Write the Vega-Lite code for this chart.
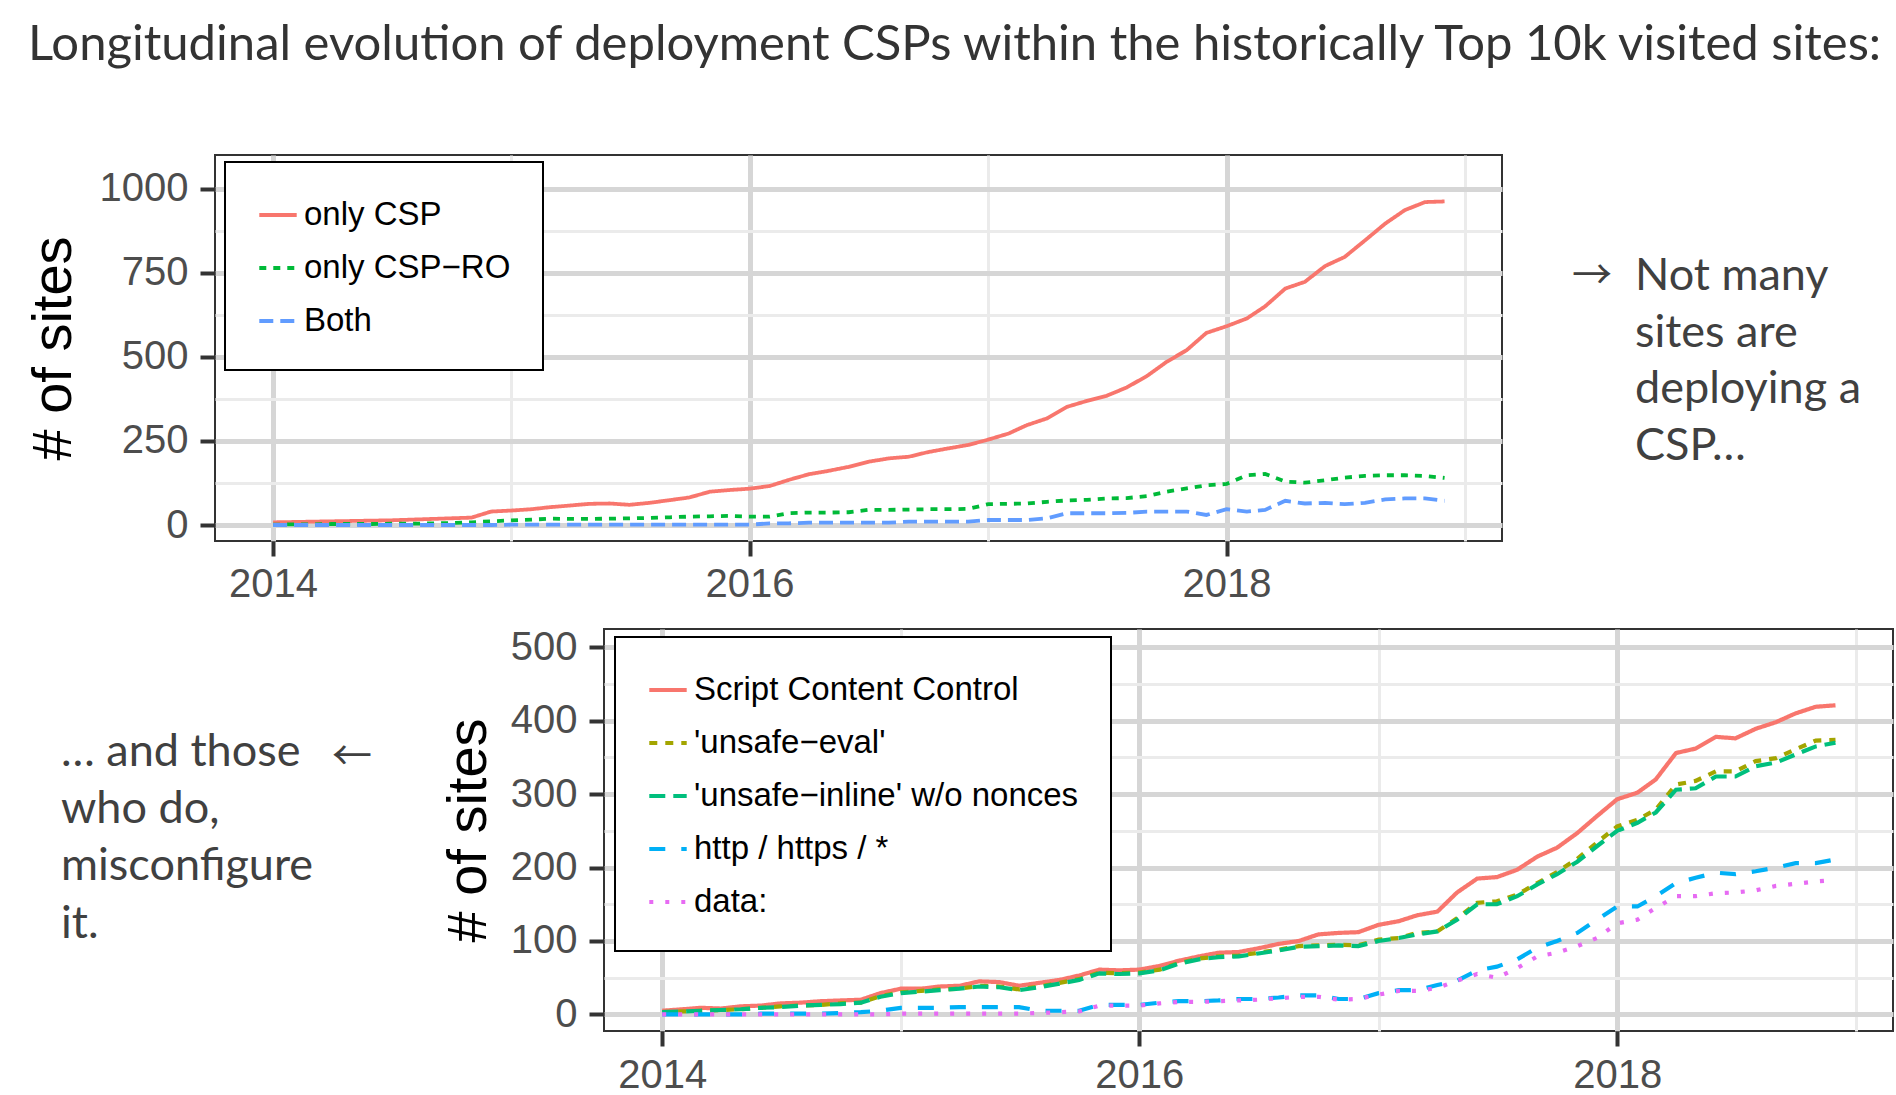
{
  "$schema": "https://vega.github.io/schema/vega-lite/v6.json",
  "background": "white",
  "padding": 0,
  "spacing": 0,
  "resolve": {
    "scale": {"x": "independent", "y": "independent", "color": "independent", "strokeDash": "independent"},
    "axis": {"x": "independent", "y": "independent"},
    "legend": {"color": "independent", "strokeDash": "independent"}
  },
  "config": {
    "view": {"stroke": null},
    "font": "Liberation Sans",
    "axis": {"domain": false, "ticks": true, "tickSize": 15, "tickWidth": 4, "tickColor": "#333333", "labelFont": "Liberation Sans", "labelFontSize": 40, "labelColor": "#4d4d4d", "grid": true, "titleFont": "Liberation Sans", "titleFontSize": 56, "titleColor": "black", "titleFontWeight": "normal", "labelOverlap": false, "labelFlush": false},
    "legend": {"labelFont": "Liberation Sans", "labelFontSize": 33, "labelColor": "black", "fillColor": "white", "strokeColor": "black", "padding": 32, "symbolType": "stroke", "rowPadding": 15, "labelOffset": 5, "labelLimit": 0}
  },
  "datasets": {
    "blank": [{}],
    "top": [
      {"date":"2014-01-01","series":"only CSP","sites":8},{"date":"2014-02-01","series":"only CSP","sites":9},{"date":"2014-03-01","series":"only CSP","sites":10},{"date":"2014-04-01","series":"only CSP","sites":11},{"date":"2014-05-01","series":"only CSP","sites":12},{"date":"2014-06-01","series":"only CSP","sites":13},{"date":"2014-07-01","series":"only CSP","sites":14},{"date":"2014-08-01","series":"only CSP","sites":16},{"date":"2014-09-01","series":"only CSP","sites":18},{"date":"2014-10-01","series":"only CSP","sites":20},{"date":"2014-11-01","series":"only CSP","sites":22},{"date":"2014-12-01","series":"only CSP","sites":40},
      {"date":"2015-01-01","series":"only CSP","sites":43},{"date":"2015-02-01","series":"only CSP","sites":47},{"date":"2015-03-01","series":"only CSP","sites":53},{"date":"2015-04-01","series":"only CSP","sites":58},{"date":"2015-05-01","series":"only CSP","sites":63},{"date":"2015-06-01","series":"only CSP","sites":64},{"date":"2015-07-01","series":"only CSP","sites":60},{"date":"2015-08-01","series":"only CSP","sites":66},{"date":"2015-09-01","series":"only CSP","sites":74},{"date":"2015-10-01","series":"only CSP","sites":82},{"date":"2015-11-01","series":"only CSP","sites":99},{"date":"2015-12-01","series":"only CSP","sites":104},
      {"date":"2016-01-01","series":"only CSP","sites":108},{"date":"2016-02-01","series":"only CSP","sites":116},{"date":"2016-03-01","series":"only CSP","sites":134},{"date":"2016-04-01","series":"only CSP","sites":151},{"date":"2016-05-01","series":"only CSP","sites":161},{"date":"2016-06-01","series":"only CSP","sites":173},{"date":"2016-07-01","series":"only CSP","sites":188},{"date":"2016-08-01","series":"only CSP","sites":198},{"date":"2016-09-01","series":"only CSP","sites":203},{"date":"2016-10-01","series":"only CSP","sites":217},{"date":"2016-11-01","series":"only CSP","sites":228},{"date":"2016-12-01","series":"only CSP","sites":238},
      {"date":"2017-01-01","series":"only CSP","sites":254},{"date":"2017-02-01","series":"only CSP","sites":272},{"date":"2017-03-01","series":"only CSP","sites":297},{"date":"2017-04-01","series":"only CSP","sites":317},{"date":"2017-05-01","series":"only CSP","sites":351},{"date":"2017-06-01","series":"only CSP","sites":369},{"date":"2017-07-01","series":"only CSP","sites":384},{"date":"2017-08-01","series":"only CSP","sites":409},{"date":"2017-09-01","series":"only CSP","sites":443},{"date":"2017-10-01","series":"only CSP","sites":485},{"date":"2017-11-01","series":"only CSP","sites":520},{"date":"2017-12-01","series":"only CSP","sites":571},
      {"date":"2018-01-01","series":"only CSP","sites":591},{"date":"2018-02-01","series":"only CSP","sites":614},{"date":"2018-03-01","series":"only CSP","sites":650},{"date":"2018-04-01","series":"only CSP","sites":703},{"date":"2018-05-01","series":"only CSP","sites":723},{"date":"2018-06-01","series":"only CSP","sites":770},{"date":"2018-07-01","series":"only CSP","sites":797},{"date":"2018-08-01","series":"only CSP","sites":846},{"date":"2018-09-01","series":"only CSP","sites":896},{"date":"2018-10-01","series":"only CSP","sites":936},{"date":"2018-11-01","series":"only CSP","sites":960},{"date":"2018-12-01","series":"only CSP","sites":962},
      {"date":"2014-01-01","series":"only CSP−RO","sites":1},{"date":"2014-02-01","series":"only CSP−RO","sites":2},{"date":"2014-03-01","series":"only CSP−RO","sites":2},{"date":"2014-04-01","series":"only CSP−RO","sites":3},{"date":"2014-05-01","series":"only CSP−RO","sites":3},{"date":"2014-06-01","series":"only CSP−RO","sites":3},{"date":"2014-07-01","series":"only CSP−RO","sites":4},{"date":"2014-08-01","series":"only CSP−RO","sites":4},{"date":"2014-09-01","series":"only CSP−RO","sites":5},{"date":"2014-10-01","series":"only CSP−RO","sites":6},{"date":"2014-11-01","series":"only CSP−RO","sites":8},{"date":"2014-12-01","series":"only CSP−RO","sites":11},
      {"date":"2015-01-01","series":"only CSP−RO","sites":14},{"date":"2015-02-01","series":"only CSP−RO","sites":16},{"date":"2015-03-01","series":"only CSP−RO","sites":19},{"date":"2015-04-01","series":"only CSP−RO","sites":18},{"date":"2015-05-01","series":"only CSP−RO","sites":18},{"date":"2015-06-01","series":"only CSP−RO","sites":19},{"date":"2015-07-01","series":"only CSP−RO","sites":20},{"date":"2015-08-01","series":"only CSP−RO","sites":21},{"date":"2015-09-01","series":"only CSP−RO","sites":23},{"date":"2015-10-01","series":"only CSP−RO","sites":25},{"date":"2015-11-01","series":"only CSP−RO","sites":26},{"date":"2015-12-01","series":"only CSP−RO","sites":27},
      {"date":"2016-01-01","series":"only CSP−RO","sites":25},{"date":"2016-02-01","series":"only CSP−RO","sites":25},{"date":"2016-03-01","series":"only CSP−RO","sites":35},{"date":"2016-04-01","series":"only CSP−RO","sites":37},{"date":"2016-05-01","series":"only CSP−RO","sites":37},{"date":"2016-06-01","series":"only CSP−RO","sites":38},{"date":"2016-07-01","series":"only CSP−RO","sites":45},{"date":"2016-08-01","series":"only CSP−RO","sites":45},{"date":"2016-09-01","series":"only CSP−RO","sites":46},{"date":"2016-10-01","series":"only CSP−RO","sites":47},{"date":"2016-11-01","series":"only CSP−RO","sites":47},{"date":"2016-12-01","series":"only CSP−RO","sites":48},
      {"date":"2017-01-01","series":"only CSP−RO","sites":62},{"date":"2017-02-01","series":"only CSP−RO","sites":63},{"date":"2017-03-01","series":"only CSP−RO","sites":64},{"date":"2017-04-01","series":"only CSP−RO","sites":69},{"date":"2017-05-01","series":"only CSP−RO","sites":73},{"date":"2017-06-01","series":"only CSP−RO","sites":75},{"date":"2017-07-01","series":"only CSP−RO","sites":79},{"date":"2017-08-01","series":"only CSP−RO","sites":80},{"date":"2017-09-01","series":"only CSP−RO","sites":86},{"date":"2017-10-01","series":"only CSP−RO","sites":99},{"date":"2017-11-01","series":"only CSP−RO","sites":109},{"date":"2017-12-01","series":"only CSP−RO","sites":118},
      {"date":"2018-01-01","series":"only CSP−RO","sites":122},{"date":"2018-02-01","series":"only CSP−RO","sites":148},{"date":"2018-03-01","series":"only CSP−RO","sites":152},{"date":"2018-04-01","series":"only CSP−RO","sites":129},{"date":"2018-05-01","series":"only CSP−RO","sites":126},{"date":"2018-06-01","series":"only CSP−RO","sites":133},{"date":"2018-07-01","series":"only CSP−RO","sites":141},{"date":"2018-08-01","series":"only CSP−RO","sites":146},{"date":"2018-09-01","series":"only CSP−RO","sites":148},{"date":"2018-10-01","series":"only CSP−RO","sites":148},{"date":"2018-11-01","series":"only CSP−RO","sites":146},{"date":"2018-12-01","series":"only CSP−RO","sites":140},
      {"date":"2014-01-01","series":"Both","sites":0},{"date":"2014-02-01","series":"Both","sites":0},{"date":"2014-03-01","series":"Both","sites":0},{"date":"2014-04-01","series":"Both","sites":0},{"date":"2014-05-01","series":"Both","sites":0},{"date":"2014-06-01","series":"Both","sites":0},{"date":"2014-07-01","series":"Both","sites":0},{"date":"2014-08-01","series":"Both","sites":0},{"date":"2014-09-01","series":"Both","sites":0},{"date":"2014-10-01","series":"Both","sites":0},{"date":"2014-11-01","series":"Both","sites":0},{"date":"2014-12-01","series":"Both","sites":0},
      {"date":"2015-01-01","series":"Both","sites":1},{"date":"2015-02-01","series":"Both","sites":1},{"date":"2015-03-01","series":"Both","sites":1},{"date":"2015-04-01","series":"Both","sites":1},{"date":"2015-05-01","series":"Both","sites":1},{"date":"2015-06-01","series":"Both","sites":1},{"date":"2015-07-01","series":"Both","sites":1},{"date":"2015-08-01","series":"Both","sites":1},{"date":"2015-09-01","series":"Both","sites":1},{"date":"2015-10-01","series":"Both","sites":1},{"date":"2015-11-01","series":"Both","sites":1},{"date":"2015-12-01","series":"Both","sites":1},
      {"date":"2016-01-01","series":"Both","sites":1},{"date":"2016-02-01","series":"Both","sites":5},{"date":"2016-03-01","series":"Both","sites":5},{"date":"2016-04-01","series":"Both","sites":7},{"date":"2016-05-01","series":"Both","sites":7},{"date":"2016-06-01","series":"Both","sites":7},{"date":"2016-07-01","series":"Both","sites":7},{"date":"2016-08-01","series":"Both","sites":7},{"date":"2016-09-01","series":"Both","sites":10},{"date":"2016-10-01","series":"Both","sites":10},{"date":"2016-11-01","series":"Both","sites":10},{"date":"2016-12-01","series":"Both","sites":10},
      {"date":"2017-01-01","series":"Both","sites":15},{"date":"2017-02-01","series":"Both","sites":15},{"date":"2017-03-01","series":"Both","sites":15},{"date":"2017-04-01","series":"Both","sites":20},{"date":"2017-05-01","series":"Both","sites":35},{"date":"2017-06-01","series":"Both","sites":35},{"date":"2017-07-01","series":"Both","sites":35},{"date":"2017-08-01","series":"Both","sites":36},{"date":"2017-09-01","series":"Both","sites":40},{"date":"2017-10-01","series":"Both","sites":40},{"date":"2017-11-01","series":"Both","sites":40},{"date":"2017-12-01","series":"Both","sites":30},
      {"date":"2018-01-01","series":"Both","sites":47},{"date":"2018-02-01","series":"Both","sites":40},{"date":"2018-03-01","series":"Both","sites":45},{"date":"2018-04-01","series":"Both","sites":72},{"date":"2018-05-01","series":"Both","sites":64},{"date":"2018-06-01","series":"Both","sites":66},{"date":"2018-07-01","series":"Both","sites":62},{"date":"2018-08-01","series":"Both","sites":66},{"date":"2018-09-01","series":"Both","sites":76},{"date":"2018-10-01","series":"Both","sites":79},{"date":"2018-11-01","series":"Both","sites":79},{"date":"2018-12-01","series":"Both","sites":72}
    ],
    "bottom": [
      {"date":"2014-01-01","series":"Script Content Control","sites":5},{"date":"2014-02-01","series":"Script Content Control","sites":7},{"date":"2014-03-01","series":"Script Content Control","sites":9},{"date":"2014-04-01","series":"Script Content Control","sites":8},{"date":"2014-05-01","series":"Script Content Control","sites":11},{"date":"2014-06-01","series":"Script Content Control","sites":12},{"date":"2014-07-01","series":"Script Content Control","sites":15},{"date":"2014-08-01","series":"Script Content Control","sites":16},{"date":"2014-09-01","series":"Script Content Control","sites":18},{"date":"2014-10-01","series":"Script Content Control","sites":19},{"date":"2014-11-01","series":"Script Content Control","sites":20},{"date":"2014-12-01","series":"Script Content Control","sites":29},
      {"date":"2015-01-01","series":"Script Content Control","sites":35},{"date":"2015-02-01","series":"Script Content Control","sites":35},{"date":"2015-03-01","series":"Script Content Control","sites":38},{"date":"2015-04-01","series":"Script Content Control","sites":39},{"date":"2015-05-01","series":"Script Content Control","sites":45},{"date":"2015-06-01","series":"Script Content Control","sites":44},{"date":"2015-07-01","series":"Script Content Control","sites":39},{"date":"2015-08-01","series":"Script Content Control","sites":43},{"date":"2015-09-01","series":"Script Content Control","sites":47},{"date":"2015-10-01","series":"Script Content Control","sites":53},{"date":"2015-11-01","series":"Script Content Control","sites":61},{"date":"2015-12-01","series":"Script Content Control","sites":60},
      {"date":"2016-01-01","series":"Script Content Control","sites":61},{"date":"2016-02-01","series":"Script Content Control","sites":66},{"date":"2016-03-01","series":"Script Content Control","sites":73},{"date":"2016-04-01","series":"Script Content Control","sites":79},{"date":"2016-05-01","series":"Script Content Control","sites":84},{"date":"2016-06-01","series":"Script Content Control","sites":85},{"date":"2016-07-01","series":"Script Content Control","sites":90},{"date":"2016-08-01","series":"Script Content Control","sites":96},{"date":"2016-09-01","series":"Script Content Control","sites":100},{"date":"2016-10-01","series":"Script Content Control","sites":109},{"date":"2016-11-01","series":"Script Content Control","sites":111},{"date":"2016-12-01","series":"Script Content Control","sites":112},
      {"date":"2017-01-01","series":"Script Content Control","sites":122},{"date":"2017-02-01","series":"Script Content Control","sites":127},{"date":"2017-03-01","series":"Script Content Control","sites":135},{"date":"2017-04-01","series":"Script Content Control","sites":140},{"date":"2017-05-01","series":"Script Content Control","sites":166},{"date":"2017-06-01","series":"Script Content Control","sites":185},{"date":"2017-07-01","series":"Script Content Control","sites":187},{"date":"2017-08-01","series":"Script Content Control","sites":197},{"date":"2017-09-01","series":"Script Content Control","sites":215},{"date":"2017-10-01","series":"Script Content Control","sites":227},{"date":"2017-11-01","series":"Script Content Control","sites":247},{"date":"2017-12-01","series":"Script Content Control","sites":270},
      {"date":"2018-01-01","series":"Script Content Control","sites":293},{"date":"2018-02-01","series":"Script Content Control","sites":302},{"date":"2018-03-01","series":"Script Content Control","sites":320},{"date":"2018-04-01","series":"Script Content Control","sites":356},{"date":"2018-05-01","series":"Script Content Control","sites":362},{"date":"2018-06-01","series":"Script Content Control","sites":378},{"date":"2018-07-01","series":"Script Content Control","sites":376},{"date":"2018-08-01","series":"Script Content Control","sites":389},{"date":"2018-09-01","series":"Script Content Control","sites":398},{"date":"2018-10-01","series":"Script Content Control","sites":410},{"date":"2018-11-01","series":"Script Content Control","sites":419},{"date":"2018-12-01","series":"Script Content Control","sites":421},
      {"date":"2014-01-01","series":"'unsafe−eval'","sites":3},{"date":"2014-02-01","series":"'unsafe−eval'","sites":4},{"date":"2014-03-01","series":"'unsafe−eval'","sites":5},{"date":"2014-04-01","series":"'unsafe−eval'","sites":6},{"date":"2014-05-01","series":"'unsafe−eval'","sites":7},{"date":"2014-06-01","series":"'unsafe−eval'","sites":9},{"date":"2014-07-01","series":"'unsafe−eval'","sites":11},{"date":"2014-08-01","series":"'unsafe−eval'","sites":12},{"date":"2014-09-01","series":"'unsafe−eval'","sites":13},{"date":"2014-10-01","series":"'unsafe−eval'","sites":15},{"date":"2014-11-01","series":"'unsafe−eval'","sites":16},{"date":"2014-12-01","series":"'unsafe−eval'","sites":25},
      {"date":"2015-01-01","series":"'unsafe−eval'","sites":30},{"date":"2015-02-01","series":"'unsafe−eval'","sites":32},{"date":"2015-03-01","series":"'unsafe−eval'","sites":34},{"date":"2015-04-01","series":"'unsafe−eval'","sites":35},{"date":"2015-05-01","series":"'unsafe−eval'","sites":39},{"date":"2015-06-01","series":"'unsafe−eval'","sites":38},{"date":"2015-07-01","series":"'unsafe−eval'","sites":34},{"date":"2015-08-01","series":"'unsafe−eval'","sites":38},{"date":"2015-09-01","series":"'unsafe−eval'","sites":43},{"date":"2015-10-01","series":"'unsafe−eval'","sites":48},{"date":"2015-11-01","series":"'unsafe−eval'","sites":57},{"date":"2015-12-01","series":"'unsafe−eval'","sites":56},
      {"date":"2016-01-01","series":"'unsafe−eval'","sites":57},{"date":"2016-02-01","series":"'unsafe−eval'","sites":61},{"date":"2016-03-01","series":"'unsafe−eval'","sites":70},{"date":"2016-04-01","series":"'unsafe−eval'","sites":76},{"date":"2016-05-01","series":"'unsafe−eval'","sites":79},{"date":"2016-06-01","series":"'unsafe−eval'","sites":80},{"date":"2016-07-01","series":"'unsafe−eval'","sites":84},{"date":"2016-08-01","series":"'unsafe−eval'","sites":88},{"date":"2016-09-01","series":"'unsafe−eval'","sites":93},{"date":"2016-10-01","series":"'unsafe−eval'","sites":94},{"date":"2016-11-01","series":"'unsafe−eval'","sites":95},{"date":"2016-12-01","series":"'unsafe−eval'","sites":94},
      {"date":"2017-01-01","series":"'unsafe−eval'","sites":102},{"date":"2017-02-01","series":"'unsafe−eval'","sites":104},{"date":"2017-03-01","series":"'unsafe−eval'","sites":111},{"date":"2017-04-01","series":"'unsafe−eval'","sites":113},{"date":"2017-05-01","series":"'unsafe−eval'","sites":131},{"date":"2017-06-01","series":"'unsafe−eval'","sites":152},{"date":"2017-07-01","series":"'unsafe−eval'","sites":154},{"date":"2017-08-01","series":"'unsafe−eval'","sites":163},{"date":"2017-09-01","series":"'unsafe−eval'","sites":179},{"date":"2017-10-01","series":"'unsafe−eval'","sites":194},{"date":"2017-11-01","series":"'unsafe−eval'","sites":212},{"date":"2017-12-01","series":"'unsafe−eval'","sites":234},
      {"date":"2018-01-01","series":"'unsafe−eval'","sites":256},{"date":"2018-02-01","series":"'unsafe−eval'","sites":265},{"date":"2018-03-01","series":"'unsafe−eval'","sites":279},{"date":"2018-04-01","series":"'unsafe−eval'","sites":313},{"date":"2018-05-01","series":"'unsafe−eval'","sites":318},{"date":"2018-06-01","series":"'unsafe−eval'","sites":331},{"date":"2018-07-01","series":"'unsafe−eval'","sites":331},{"date":"2018-08-01","series":"'unsafe−eval'","sites":345},{"date":"2018-09-01","series":"'unsafe−eval'","sites":349},{"date":"2018-10-01","series":"'unsafe−eval'","sites":361},{"date":"2018-11-01","series":"'unsafe−eval'","sites":373},{"date":"2018-12-01","series":"'unsafe−eval'","sites":374},
      {"date":"2014-01-01","series":"'unsafe−inline' w/o nonces","sites":3},{"date":"2014-02-01","series":"'unsafe−inline' w/o nonces","sites":4},{"date":"2014-03-01","series":"'unsafe−inline' w/o nonces","sites":5},{"date":"2014-04-01","series":"'unsafe−inline' w/o nonces","sites":6},{"date":"2014-05-01","series":"'unsafe−inline' w/o nonces","sites":7},{"date":"2014-06-01","series":"'unsafe−inline' w/o nonces","sites":9},{"date":"2014-07-01","series":"'unsafe−inline' w/o nonces","sites":10},{"date":"2014-08-01","series":"'unsafe−inline' w/o nonces","sites":12},{"date":"2014-09-01","series":"'unsafe−inline' w/o nonces","sites":13},{"date":"2014-10-01","series":"'unsafe−inline' w/o nonces","sites":14},{"date":"2014-11-01","series":"'unsafe−inline' w/o nonces","sites":16},{"date":"2014-12-01","series":"'unsafe−inline' w/o nonces","sites":24},
      {"date":"2015-01-01","series":"'unsafe−inline' w/o nonces","sites":29},{"date":"2015-02-01","series":"'unsafe−inline' w/o nonces","sites":31},{"date":"2015-03-01","series":"'unsafe−inline' w/o nonces","sites":33},{"date":"2015-04-01","series":"'unsafe−inline' w/o nonces","sites":35},{"date":"2015-05-01","series":"'unsafe−inline' w/o nonces","sites":38},{"date":"2015-06-01","series":"'unsafe−inline' w/o nonces","sites":37},{"date":"2015-07-01","series":"'unsafe−inline' w/o nonces","sites":33},{"date":"2015-08-01","series":"'unsafe−inline' w/o nonces","sites":37},{"date":"2015-09-01","series":"'unsafe−inline' w/o nonces","sites":42},{"date":"2015-10-01","series":"'unsafe−inline' w/o nonces","sites":47},{"date":"2015-11-01","series":"'unsafe−inline' w/o nonces","sites":56},{"date":"2015-12-01","series":"'unsafe−inline' w/o nonces","sites":55},
      {"date":"2016-01-01","series":"'unsafe−inline' w/o nonces","sites":56},{"date":"2016-02-01","series":"'unsafe−inline' w/o nonces","sites":60},{"date":"2016-03-01","series":"'unsafe−inline' w/o nonces","sites":69},{"date":"2016-04-01","series":"'unsafe−inline' w/o nonces","sites":75},{"date":"2016-05-01","series":"'unsafe−inline' w/o nonces","sites":78},{"date":"2016-06-01","series":"'unsafe−inline' w/o nonces","sites":79},{"date":"2016-07-01","series":"'unsafe−inline' w/o nonces","sites":83},{"date":"2016-08-01","series":"'unsafe−inline' w/o nonces","sites":87},{"date":"2016-09-01","series":"'unsafe−inline' w/o nonces","sites":92},{"date":"2016-10-01","series":"'unsafe−inline' w/o nonces","sites":93},{"date":"2016-11-01","series":"'unsafe−inline' w/o nonces","sites":94},{"date":"2016-12-01","series":"'unsafe−inline' w/o nonces","sites":93},
      {"date":"2017-01-01","series":"'unsafe−inline' w/o nonces","sites":100},{"date":"2017-02-01","series":"'unsafe−inline' w/o nonces","sites":104},{"date":"2017-03-01","series":"'unsafe−inline' w/o nonces","sites":109},{"date":"2017-04-01","series":"'unsafe−inline' w/o nonces","sites":113},{"date":"2017-05-01","series":"'unsafe−inline' w/o nonces","sites":129},{"date":"2017-06-01","series":"'unsafe−inline' w/o nonces","sites":150},{"date":"2017-07-01","series":"'unsafe−inline' w/o nonces","sites":150},{"date":"2017-08-01","series":"'unsafe−inline' w/o nonces","sites":161},{"date":"2017-09-01","series":"'unsafe−inline' w/o nonces","sites":177},{"date":"2017-10-01","series":"'unsafe−inline' w/o nonces","sites":191},{"date":"2017-11-01","series":"'unsafe−inline' w/o nonces","sites":208},{"date":"2017-12-01","series":"'unsafe−inline' w/o nonces","sites":229},
      {"date":"2018-01-01","series":"'unsafe−inline' w/o nonces","sites":250},{"date":"2018-02-01","series":"'unsafe−inline' w/o nonces","sites":261},{"date":"2018-03-01","series":"'unsafe−inline' w/o nonces","sites":275},{"date":"2018-04-01","series":"'unsafe−inline' w/o nonces","sites":306},{"date":"2018-05-01","series":"'unsafe−inline' w/o nonces","sites":308},{"date":"2018-06-01","series":"'unsafe−inline' w/o nonces","sites":324},{"date":"2018-07-01","series":"'unsafe−inline' w/o nonces","sites":324},{"date":"2018-08-01","series":"'unsafe−inline' w/o nonces","sites":338},{"date":"2018-09-01","series":"'unsafe−inline' w/o nonces","sites":343},{"date":"2018-10-01","series":"'unsafe−inline' w/o nonces","sites":354},{"date":"2018-11-01","series":"'unsafe−inline' w/o nonces","sites":365},{"date":"2018-12-01","series":"'unsafe−inline' w/o nonces","sites":370},
      {"date":"2014-01-01","series":"http / https / *","sites":0},{"date":"2014-02-01","series":"http / https / *","sites":0},{"date":"2014-03-01","series":"http / https / *","sites":0},{"date":"2014-04-01","series":"http / https / *","sites":0},{"date":"2014-05-01","series":"http / https / *","sites":0},{"date":"2014-06-01","series":"http / https / *","sites":1},{"date":"2014-07-01","series":"http / https / *","sites":1},{"date":"2014-08-01","series":"http / https / *","sites":1},{"date":"2014-09-01","series":"http / https / *","sites":1},{"date":"2014-10-01","series":"http / https / *","sites":2},{"date":"2014-11-01","series":"http / https / *","sites":3},{"date":"2014-12-01","series":"http / https / *","sites":5},
      {"date":"2015-01-01","series":"http / https / *","sites":9},{"date":"2015-02-01","series":"http / https / *","sites":9},{"date":"2015-03-01","series":"http / https / *","sites":9},{"date":"2015-04-01","series":"http / https / *","sites":10},{"date":"2015-05-01","series":"http / https / *","sites":10},{"date":"2015-06-01","series":"http / https / *","sites":10},{"date":"2015-07-01","series":"http / https / *","sites":10},{"date":"2015-08-01","series":"http / https / *","sites":5},{"date":"2015-09-01","series":"http / https / *","sites":5},{"date":"2015-10-01","series":"http / https / *","sites":5},{"date":"2015-11-01","series":"http / https / *","sites":13},{"date":"2015-12-01","series":"http / https / *","sites":13},
      {"date":"2016-01-01","series":"http / https / *","sites":13},{"date":"2016-02-01","series":"http / https / *","sites":16},{"date":"2016-03-01","series":"http / https / *","sites":18},{"date":"2016-04-01","series":"http / https / *","sites":18},{"date":"2016-05-01","series":"http / https / *","sites":19},{"date":"2016-06-01","series":"http / https / *","sites":21},{"date":"2016-07-01","series":"http / https / *","sites":21},{"date":"2016-08-01","series":"http / https / *","sites":23},{"date":"2016-09-01","series":"http / https / *","sites":26},{"date":"2016-10-01","series":"http / https / *","sites":26},{"date":"2016-11-01","series":"http / https / *","sites":21},{"date":"2016-12-01","series":"http / https / *","sites":21},
      {"date":"2017-01-01","series":"http / https / *","sites":29},{"date":"2017-02-01","series":"http / https / *","sites":33},{"date":"2017-03-01","series":"http / https / *","sites":33},{"date":"2017-04-01","series":"http / https / *","sites":40},{"date":"2017-05-01","series":"http / https / *","sites":46},{"date":"2017-06-01","series":"http / https / *","sites":60},{"date":"2017-07-01","series":"http / https / *","sites":65},{"date":"2017-08-01","series":"http / https / *","sites":75},{"date":"2017-09-01","series":"http / https / *","sites":91},{"date":"2017-10-01","series":"http / https / *","sites":100},{"date":"2017-11-01","series":"http / https / *","sites":111},{"date":"2017-12-01","series":"http / https / *","sites":129},
      {"date":"2018-01-01","series":"http / https / *","sites":147},{"date":"2018-02-01","series":"http / https / *","sites":147},{"date":"2018-03-01","series":"http / https / *","sites":161},{"date":"2018-04-01","series":"http / https / *","sites":179},{"date":"2018-05-01","series":"http / https / *","sites":186},{"date":"2018-06-01","series":"http / https / *","sites":193},{"date":"2018-07-01","series":"http / https / *","sites":191},{"date":"2018-08-01","series":"http / https / *","sites":195},{"date":"2018-09-01","series":"http / https / *","sites":200},{"date":"2018-10-01","series":"http / https / *","sites":206},{"date":"2018-11-01","series":"http / https / *","sites":206},{"date":"2018-12-01","series":"http / https / *","sites":211},
      {"date":"2014-01-01","series":"data:","sites":0},{"date":"2014-02-01","series":"data:","sites":0},{"date":"2014-03-01","series":"data:","sites":0},{"date":"2014-04-01","series":"data:","sites":0},{"date":"2014-05-01","series":"data:","sites":0},{"date":"2014-06-01","series":"data:","sites":0},{"date":"2014-07-01","series":"data:","sites":0},{"date":"2014-08-01","series":"data:","sites":0},{"date":"2014-09-01","series":"data:","sites":0},{"date":"2014-10-01","series":"data:","sites":0},{"date":"2014-11-01","series":"data:","sites":0},{"date":"2014-12-01","series":"data:","sites":0},
      {"date":"2015-01-01","series":"data:","sites":1},{"date":"2015-02-01","series":"data:","sites":1},{"date":"2015-03-01","series":"data:","sites":1},{"date":"2015-04-01","series":"data:","sites":1},{"date":"2015-05-01","series":"data:","sites":1},{"date":"2015-06-01","series":"data:","sites":1},{"date":"2015-07-01","series":"data:","sites":1},{"date":"2015-08-01","series":"data:","sites":2},{"date":"2015-09-01","series":"data:","sites":3},{"date":"2015-10-01","series":"data:","sites":4},{"date":"2015-11-01","series":"data:","sites":12},{"date":"2015-12-01","series":"data:","sites":12},
      {"date":"2016-01-01","series":"data:","sites":12},{"date":"2016-02-01","series":"data:","sites":15},{"date":"2016-03-01","series":"data:","sites":17},{"date":"2016-04-01","series":"data:","sites":17},{"date":"2016-05-01","series":"data:","sites":18},{"date":"2016-06-01","series":"data:","sites":19},{"date":"2016-07-01","series":"data:","sites":20},{"date":"2016-08-01","series":"data:","sites":22},{"date":"2016-09-01","series":"data:","sites":24},{"date":"2016-10-01","series":"data:","sites":24},{"date":"2016-11-01","series":"data:","sites":20},{"date":"2016-12-01","series":"data:","sites":21},
      {"date":"2017-01-01","series":"data:","sites":27},{"date":"2017-02-01","series":"data:","sites":32},{"date":"2017-03-01","series":"data:","sites":32},{"date":"2017-04-01","series":"data:","sites":36},{"date":"2017-05-01","series":"data:","sites":46},{"date":"2017-06-01","series":"data:","sites":55},{"date":"2017-07-01","series":"data:","sites":50},{"date":"2017-08-01","series":"data:","sites":63},{"date":"2017-09-01","series":"data:","sites":79},{"date":"2017-10-01","series":"data:","sites":84},{"date":"2017-11-01","series":"data:","sites":93},{"date":"2017-12-01","series":"data:","sites":104},
      {"date":"2018-01-01","series":"data:","sites":124},{"date":"2018-02-01","series":"data:","sites":129},{"date":"2018-03-01","series":"data:","sites":145},{"date":"2018-04-01","series":"data:","sites":161},{"date":"2018-05-01","series":"data:","sites":161},{"date":"2018-06-01","series":"data:","sites":165},{"date":"2018-07-01","series":"data:","sites":166},{"date":"2018-08-01","series":"data:","sites":169},{"date":"2018-09-01","series":"data:","sites":175},{"date":"2018-10-01","series":"data:","sites":178},{"date":"2018-11-01","series":"data:","sites":181},{"date":"2018-12-01","series":"data:","sites":183}
    ]
  },
  "vconcat": [
    {
      "width": 1896, "height": 153.7,
      "data": {"name": "blank"},
      "mark": {"type": "point", "opacity": 0},
      "encoding": {},
      "title": {"text": "Longitudinal evolution of deployment CSPs within the historically Top 10k visited sites:", "orient": "top", "anchor": "start", "frame": "group", "offset": -108.7, "dx": 28, "baseline": "alphabetic", "font": "Lato", "fontSize": 49, "fontWeight": "normal", "color": "#333333"}
    },
    {
      "spacing": 0,
      "bounds": "flush",
      "resolve": {"scale": {"x": "independent", "y": "independent", "color": "independent", "strokeDash": "independent"}, "legend": {"color": "independent", "strokeDash": "independent"}},
      "hconcat": [
        {"width": 215, "height": 471, "data": {"name": "blank"}, "mark": {"type": "point", "opacity": 0}, "encoding": {}},
        {
          "width": 1287, "height": 386,
          "view": {"stroke": "#333333", "strokeWidth": 2},
          "data": {"name": "top"},
          "mark": {"type": "line", "strokeWidth": 3.8},
          "encoding": {
            "x": {"field": "date", "type": "temporal",
              "scale": {"type": "utc", "domain": [{"year": 2013, "month": 10, "date": 4, "utc": true}, {"year": 2019, "month": 2, "date": 27, "utc": true}]},
              "axis": {"title": null, "format": "%Y",
                "values": [{"year": 2014, "utc": true}, {"year": 2015, "utc": true}, {"year": 2016, "utc": true}, {"year": 2017, "utc": true}, {"year": 2018, "utc": true}, {"year": 2019, "utc": true}],
                "labelExpr": "utcyear(datum.value) % 2 == 0 ? datum.label : ''",
                "gridColor": {"condition": {"test": "utcyear(datum.value) % 2 == 1", "value": "#ebebeb"}, "value": "#d6d6d6"},
                "gridWidth": {"condition": {"test": "utcyear(datum.value) % 2 == 1", "value": 3}, "value": 5},
                "tickOpacity": {"condition": {"test": "utcyear(datum.value) % 2 == 1", "value": 0}, "value": 1},
                "labelPadding": 8}},
            "y": {"field": "sites", "type": "quantitative",
              "scale": {"domain": [-47.5, 1100], "nice": false, "zero": false},
              "axis": {"title": "# of sites", "format": "d",
                "values": [0, 125, 250, 375, 500, 625, 750, 875, 1000],
                "labelExpr": "datum.value % 250 == 0 ? datum.label : ''",
                "gridColor": {"condition": {"test": "datum.value % 250 != 0", "value": "#ebebeb"}, "value": "#d6d6d6"},
                "gridWidth": {"condition": {"test": "datum.value % 250 != 0", "value": 3}, "value": 5},
                "tickOpacity": {"condition": {"test": "datum.value % 250 != 0", "value": 0}, "value": 1},
                "labelPadding": 12,
                "titleX": -145, "titleY": 193, "titleAngle": 270, "titleBaseline": "alphabetic", "titleAlign": "center"}},
            "color": {"field": "series", "type": "nominal",
              "scale": {"domain": ["only CSP", "only CSP−RO", "Both"], "range": ["#F8766D", "#00BA38", "#619CFF"]},
              "legend": {"title": null, "orient": "none", "legendX": 10, "legendY": 7, "symbolSize": 1400, "symbolStrokeWidth": 3.8, "encode": {"legend": {"update": {"strokeWidth": {"value": 2}}}}}},
            "strokeDash": {"field": "series", "type": "nominal",
              "scale": {"domain": ["only CSP", "only CSP−RO", "Both"], "range": [[1, 0], [7, 7], [14, 7]]},
              "legend": {"title": null, "orient": "none", "legendX": 10, "legendY": 7, "symbolSize": 1400, "symbolStrokeWidth": 3.8, "encode": {"legend": {"update": {"strokeWidth": {"value": 2}}}}}}
          }
        },
        {"width": 130, "height": 386, "data": {"name": "blank"}, "mark": {"type": "point", "opacity": 0}, "encoding": {},
          "title": {"text": "→", "orient": "top", "anchor": "start", "frame": "group", "offset": -174, "dx": 70, "baseline": "alphabetic", "font": "Noto Sans CJK JP", "fontSize": 40, "fontWeight": "normal", "color": "#404040"}},
        {"width": 264, "height": 386, "data": {"name": "blank"}, "mark": {"type": "point", "opacity": 0}, "encoding": {},
          "title": {"text": ["Not many", "sites are", "deploying a", "CSP…"], "orient": "top", "anchor": "start", "frame": "group", "offset": -313.9, "dx": 3, "baseline": "top", "lineHeight": 56.6, "font": "Lato", "fontSize": 45, "fontWeight": "normal", "color": "#404040"}}
      ]
    },
    {
      "spacing": 0,
      "bounds": "flush",
      "resolve": {"scale": {"x": "independent", "y": "independent", "color": "independent", "strokeDash": "independent"}, "legend": {"color": "independent", "strokeDash": "independent"}},
      "hconcat": [
        {"width": 320, "height": 402, "data": {"name": "blank"}, "mark": {"type": "point", "opacity": 0}, "encoding": {},
          "title": {"text": ["… and those", "who do,", "misconfigure", "it."], "orient": "top", "anchor": "start", "frame": "group", "offset": -317.7, "dx": 61, "baseline": "top", "lineHeight": 57.2, "font": "Lato", "fontSize": 45, "fontWeight": "normal", "color": "#404040"}},
        {"width": 284, "height": 402, "data": {"name": "blank"}, "mark": {"type": "point", "opacity": 0}, "encoding": {},
          "title": {"text": "←", "orient": "top", "anchor": "start", "frame": "group", "offset": -180.6, "dx": 12, "baseline": "alphabetic", "font": "Noto Sans CJK JP", "fontSize": 40, "fontWeight": "normal", "color": "#404040"}},
        {
          "width": 1289, "height": 402,
          "view": {"stroke": "#333333", "strokeWidth": 2},
          "data": {"name": "bottom"},
          "mark": {"type": "line", "strokeWidth": 4.2},
          "encoding": {
            "x": {"field": "date", "type": "temporal",
              "scale": {"type": "utc", "domain": [{"year": 2013, "month": 10, "date": 4, "utc": true}, {"year": 2019, "month": 2, "date": 27, "utc": true}]},
              "axis": {"title": null, "format": "%Y",
                "values": [{"year": 2014, "utc": true}, {"year": 2015, "utc": true}, {"year": 2016, "utc": true}, {"year": 2017, "utc": true}, {"year": 2018, "utc": true}, {"year": 2019, "utc": true}],
                "labelExpr": "utcyear(datum.value) % 2 == 0 ? datum.label : ''",
                "gridColor": {"condition": {"test": "utcyear(datum.value) % 2 == 1", "value": "#ebebeb"}, "value": "#d6d6d6"},
                "gridWidth": {"condition": {"test": "utcyear(datum.value) % 2 == 1", "value": 3}, "value": 5},
                "tickOpacity": {"condition": {"test": "utcyear(datum.value) % 2 == 1", "value": 0}, "value": 1},
                "labelPadding": 9}},
            "y": {"field": "sites", "type": "quantitative",
              "scale": {"domain": [-22.6, 524.9], "nice": false, "zero": false},
              "axis": {"title": "# of sites", "format": "d",
                "values": [0, 50, 100, 150, 200, 250, 300, 350, 400, 450, 500],
                "labelExpr": "datum.value % 100 == 0 ? datum.label : ''",
                "gridColor": {"condition": {"test": "datum.value % 100 != 0", "value": "#ebebeb"}, "value": "#d6d6d6"},
                "gridWidth": {"condition": {"test": "datum.value % 100 != 0", "value": 3}, "value": 5},
                "tickOpacity": {"condition": {"test": "datum.value % 100 != 0", "value": 0}, "value": 1},
                "labelPadding": 12,
                "titleX": -119, "titleY": 201, "titleAngle": 270, "titleBaseline": "alphabetic", "titleAlign": "center"}},
            "color": {"field": "series", "type": "nominal",
              "scale": {"domain": ["Script Content Control", "'unsafe−eval'", "'unsafe−inline' w/o nonces", "http / https / *", "data:"], "range": ["#F8766D", "#A3A500", "#00BF7D", "#00B0F6", "#E76BF3"]},
              "legend": {"title": null, "orient": "none", "legendX": 11, "legendY": 8, "symbolSize": 1400, "symbolStrokeWidth": 4.2, "encode": {"legend": {"update": {"strokeWidth": {"value": 2}}}}}},
            "strokeDash": {"field": "series", "type": "nominal",
              "scale": {"domain": ["Script Content Control", "'unsafe−eval'", "'unsafe−inline' w/o nonces", "http / https / *", "data:"], "range": [[1, 0], [8, 8], [16, 8], [16, 16], [4, 12]]},
              "legend": {"title": null, "orient": "none", "legendX": 11, "legendY": 8, "symbolSize": 1400, "symbolStrokeWidth": 4.2, "encode": {"legend": {"update": {"strokeWidth": {"value": 2}}}}}}
          }
        }
      ]
    }
  ]
}
